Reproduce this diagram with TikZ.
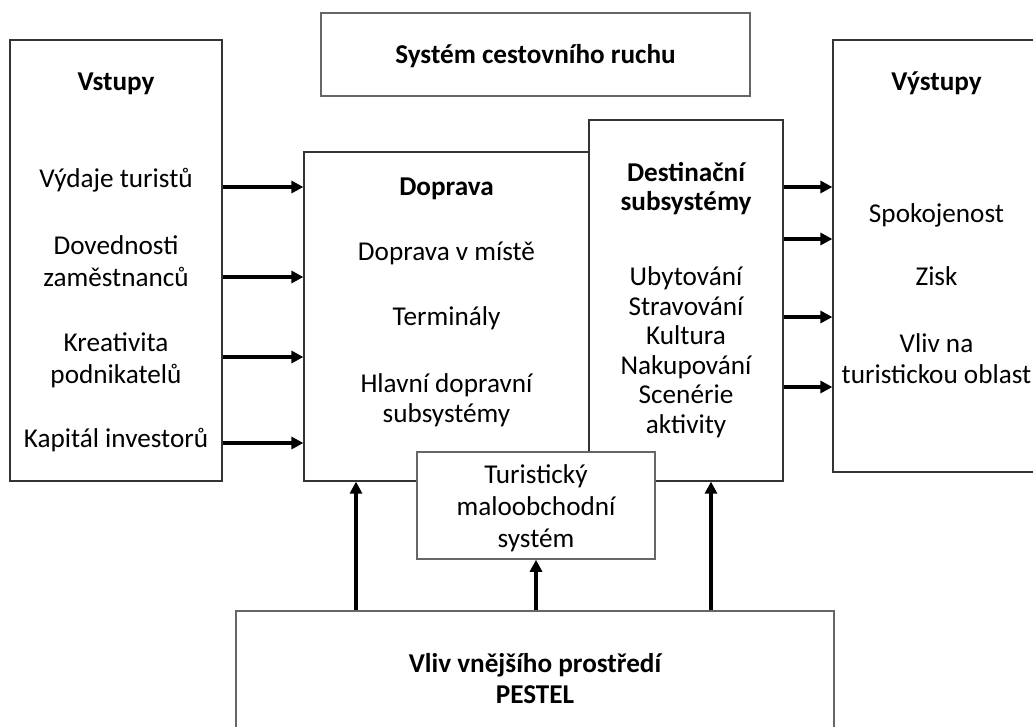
\documentclass[tikz,border=0pt]{standalone}
\usepackage{fontspec}
\setmainfont{Carlito}
\usetikzlibrary{arrows.meta}

\begin{document}
\begin{tikzpicture}[x=1pt,y=-1pt,
    box/.style={draw=black!80,line width=1.2pt,fill=white},
    greybox/.style={draw=black!60,line width=1.5pt,fill=white},
    txt/.style={anchor=base,inner sep=0pt,align=center,font=\fontsize{27.2}{#1}\selectfont},
    txt/.default=31,
    hd/.style={anchor=base,inner sep=0pt,align=center,font=\fontsize{27.2}{#1}\selectfont\bfseries},
    hd/.default=29,
    arr/.style={line width=3.5pt,-{Triangle[length=12pt,width=12pt]}}]
  \useasboundingbox (0,0) rectangle (1033,726);

  % boxes
  \node[box,minimum width=212pt,minimum height=441pt] (vstupy) at (116,260.5) {};
  \node[box,minimum width=285pt,minimum height=329pt] (doprava) at (446.5,316.5) {};
  \node[box,minimum width=194pt,minimum height=361pt] (dest) at (686,300.5) {};
  \node[box,minimum width=207pt,minimum height=432pt] (vystupy) at (936.5,256) {};
  \node[greybox,minimum width=429pt,minimum height=83pt] (system) at (535.5,54.5) {};
  \node[greybox,minimum width=238pt,minimum height=107pt] (turist) at (536,505.5) {};
  \node[greybox,minimum width=598pt,minimum height=149pt] (pestel) at (535,685.5) {};

  % texts (base = baseline of the last line)
  \node[hd] (systemtxt) at (535.5,63) {Systém cestovního ruchu};
  \node[hd] (vstupytxt) at (116,90) {Vstupy};
  \node[txt] (vydaje) at (116,187) {Výdaje turistů};
  \node[txt=32] (dovednosti) at (116,286) {Dovednosti\\zaměstnanců};
  \node[txt=32] (kreativita) at (116,383) {Kreativita\\podnikatelů};
  \node[txt] (kapital) at (116,447) {Kapitál investorů};
  \node[hd] (dopravatxt) at (446.5,195) {Doprava};
  \node[txt] (vmiste) at (446.5,260) {Doprava v místě};
  \node[txt] (terminaly) at (446.5,325) {Terminály};
  \node[txt=30] (hlavni) at (446.5,422) {Hlavní dopravní\\subsystémy};
  \node[hd] (desttxt) at (686,210) {Destinační\\subsystémy};
  \node[txt=29.5] (destlist) at (686,433) {Ubytování\\Stravování\\Kultura\\Nakupování\\Scenérie\\aktivity};
  \node[hd] (vystupytxt) at (936.5,90) {Výstupy};
  \node[txt] (spokojenost) at (936.5,222) {Spokojenost};
  \node[txt] (zisk) at (936.5,285) {Zisk};
  \node[txt] (vliv) at (936.5,383) {Vliv na\\turistickou oblast};
  \node[txt=32] (turisttxt) at (536,547) {Turistický\\maloobchodní\\systém};
  \node[hd=31] (pesteltxt) at (535,703) {Vliv vnějšího prostředí\\PESTEL};

  % inputs
  \draw[arr] (vstupy.east |- 0,187) -- (doprava.west |- 0,187);
  \draw[arr] (vstupy.east |- 0,277) -- (doprava.west |- 0,277);
  \draw[arr] (vstupy.east |- 0,357) -- (doprava.west |- 0,357);
  \draw[arr] (vstupy.east |- 0,443) -- (doprava.west |- 0,443);
  % outputs
  \draw[arr] (dest.east |- 0,187) -- (vystupy.west |- 0,187);
  \draw[arr] (dest.east |- 0,239) -- (vystupy.west |- 0,239);
  \draw[arr] (dest.east |- 0,317) -- (vystupy.west |- 0,317);
  \draw[arr] (dest.east |- 0,387) -- (vystupy.west |- 0,387);
  % environment
  \draw[arr] (pestel.north -| 356,0) -- (doprava.south -| 356,0);
  \draw[arr] (pestel.north -| turist.south) -- (turist.south);
  \draw[arr] (pestel.north -| 711,0) -- (dest.south -| 711,0);
\end{tikzpicture}
\end{document}
